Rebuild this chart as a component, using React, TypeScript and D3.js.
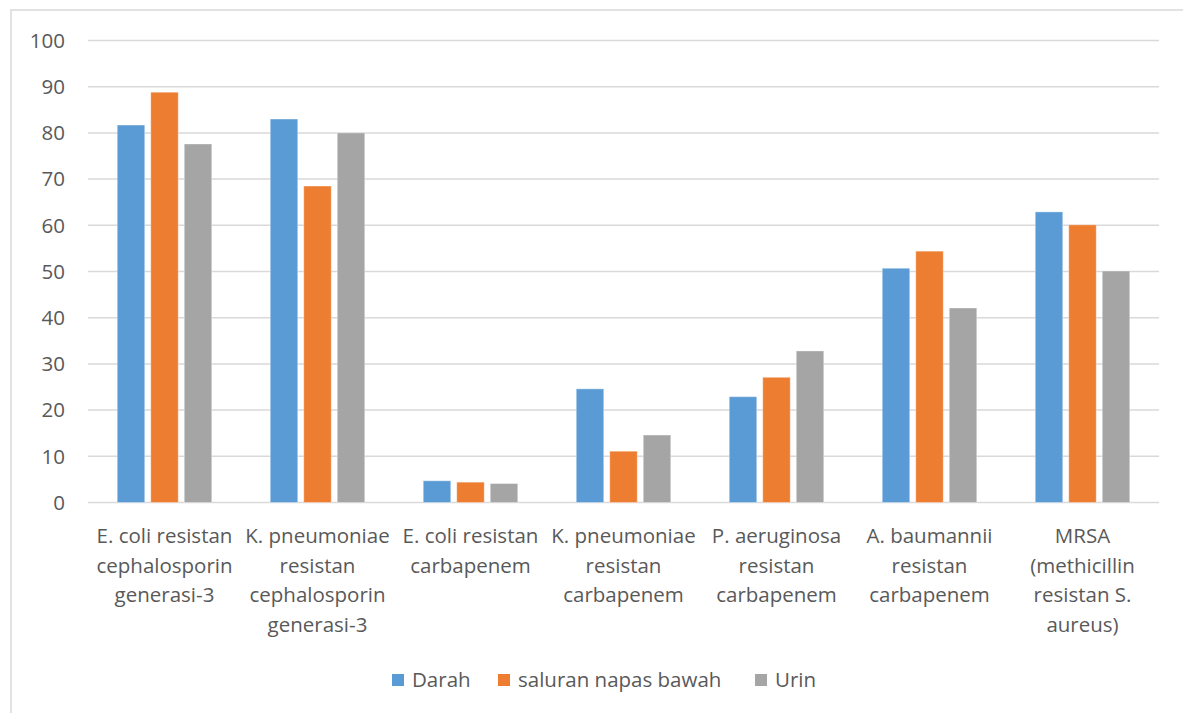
import React from 'react';
import * as d3 from 'd3';

const categories = [
  ['E. coli resistan', 'cephalosporin', 'generasi-3'],
  ['K. pneumoniae', 'resistan', 'cephalosporin', 'generasi-3'],
  ['E. coli resistan', 'carbapenem'],
  ['K. pneumoniae', 'resistan', 'carbapenem'],
  ['P. aeruginosa', 'resistan', 'carbapenem'],
  ['A. baumannii', 'resistan', 'carbapenem'],
  ['MRSA', '(methicillin', 'resistan S.', 'aureus)'],
];

const seriesNames = ['Darah', 'saluran napas bawah', 'Urin'];
const seriesColors = ['#5b9bd5', '#ed7d31', '#a5a5a5'];

const darah = [81.7, 83.0, 4.7, 24.6, 22.9, 50.7, 62.9];
const saluran = [88.8, 68.5, 4.4, 11.1, 27.1, 54.4, 60.1];
const urin = [77.6, 80.0, 4.1, 14.6, 32.8, 42.1, 50.1];

const seriesValues = [darah, saluran, urin];
const yTicks = [0, 10, 20, 30, 40, 50, 60, 70, 80, 90, 100];

const W = 1183;
const H = 713;
const left = 88;
const right = 1159;
const top = 40.5;
const bottom = 502.5;
const font = '"Open Sans", "Segoe UI", sans-serif';
const fontSize = 20.5;
const textColor = '#595959';

export default function App() {
  const x = d3.scaleBand<number>()
    .domain(d3.range(categories.length))
    .range([left, right]);
  const inner = d3.scaleBand<number>()
    .domain(d3.range(seriesNames.length))
    .range([-47.25, 47.25])
    .paddingInner(0.18);
  const y = d3.scaleLinear().domain([0, 100]).range([bottom, top]);

  // legend square positions
  const legendX = [392, 498, 755];

  return (
    <svg width={W} height={H} style={{ position: 'absolute', left: 0, top: 0, background: '#fff' }}>
      <rect x={11} y={10} width={W + 20} height={H + 20} fill="#fff" stroke="#d9d9d9" strokeWidth={1.5} />
      {yTicks.map(t => (
        <g key={t}>
          <line x1={left} x2={right} y1={y(t)} y2={y(t)} stroke="#d9d9d9" strokeWidth={1.5} />
          <text x={65} y={y(t)} dy="0.36em" textAnchor="end" fontFamily={font} fontSize={fontSize} fill={textColor}>
            {t}
          </text>
        </g>
      ))}
      {seriesValues.map((vals, s) => (
        <g key={s}>
          {vals.map((v, i) => {
            const cx = (x(i) ?? 0) + x.bandwidth() / 2;
            return (
              <rect
                key={i}
                x={cx + (inner(s) ?? 0)}
                y={y(v)}
                width={inner.bandwidth()}
                height={y(0) - y(v)}
                fill={seriesColors[s]}
                stroke="#ffffff"
                strokeOpacity={0.35}
                strokeWidth={1}
              />
            );
          })}
        </g>
      ))}
      {categories.map((lines, i) => {
        const cx = (x(i) ?? 0) + x.bandwidth() / 2;
        return (
          <text key={i} textAnchor="middle" fontFamily={font} fontSize={fontSize} fill={textColor}>
            {lines.map((ln, j) => (
              <tspan key={j} x={cx} y={543 + j * 29.7}>{ln}</tspan>
            ))}
          </text>
        );
      })}
      {seriesNames.map((n, s) => (
        <g key={n}>
          <rect x={legendX[s]} y={674} width={12} height={12} fill={seriesColors[s]} />
          <text x={legendX[s] + 20} y={687} fontFamily={font} fontSize={fontSize} fill={textColor}>{n}</text>
        </g>
      ))}
    </svg>
  );
}
